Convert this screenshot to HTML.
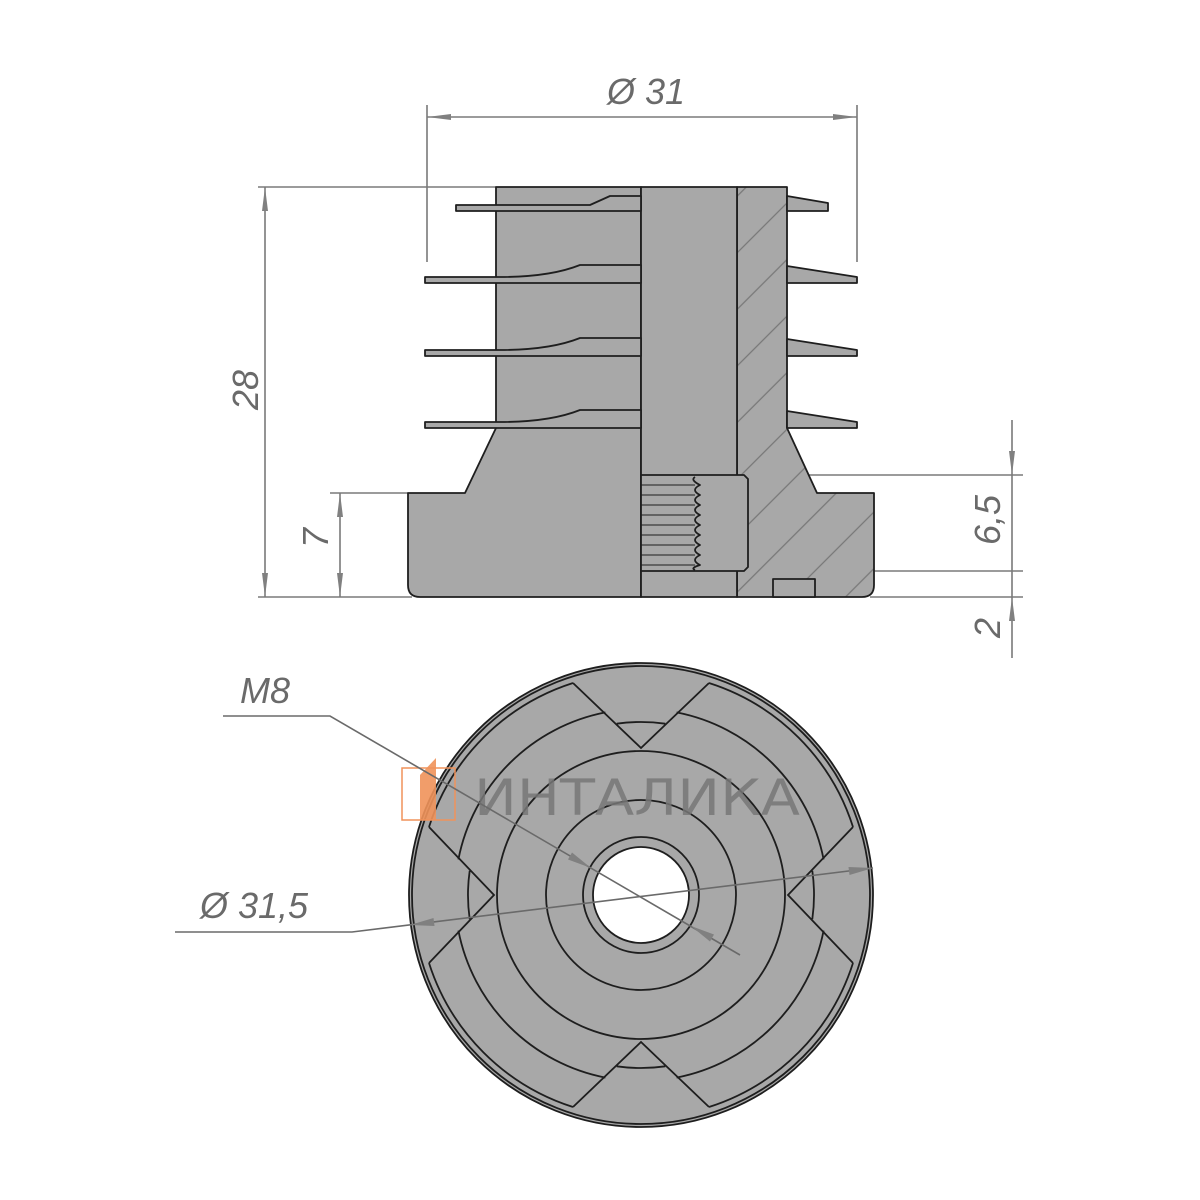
<!DOCTYPE html>
<html><head><meta charset="utf-8"><style>body{margin:0;background:#fff}svg{display:block}</style></head><body>
<svg width="1200" height="1200" viewBox="0 0 1200 1200" xmlns="http://www.w3.org/2000/svg">
<defs>
<pattern id="h" patternUnits="userSpaceOnUse" width="40" height="40" patternTransform="rotate(-45)"><rect width="40" height="40" fill="#a8a8a8"/><line x1="0" y1="20" x2="40" y2="20" stroke="#777" stroke-width="1.3"/></pattern>
<marker id="a" markerWidth="24" markerHeight="10" refX="24" refY="5" orient="auto" markerUnits="userSpaceOnUse"><path d="M0,2 L24,5 L0,8 Z" fill="#808080"/></marker>
</defs>
<g font-family="Liberation Sans, sans-serif" font-style="italic" fill="#6a6a6a" font-size="36">
<text x="607" y="104">Ø 31</text>
<text transform="translate(258,390) rotate(-90)" text-anchor="middle">28</text>
<text transform="translate(328,538) rotate(-90)" text-anchor="middle">7</text>
<text transform="translate(1000,520) rotate(-90)" text-anchor="middle">6,5</text>
<text transform="translate(1000,628) rotate(-90)" text-anchor="middle">2</text>
<text x="240" y="703">M8</text>
<text x="200" y="918">Ø 31,5</text>
</g>
<g stroke="#7a7a7a" stroke-width="1.6" fill="none">
<line x1="427" y1="105" x2="427" y2="262"/><line x1="857" y1="105" x2="857" y2="262"/>
<line x1="600" y1="117" x2="427" y2="117" marker-end="url(#a)"/><line x1="600" y1="117" x2="857" y2="117" marker-end="url(#a)"/>
<line x1="258" y1="187" x2="496" y2="187"/><line x1="258" y1="597" x2="412" y2="597"/>
<line x1="265" y1="390" x2="265" y2="187" marker-end="url(#a)"/><line x1="265" y1="390" x2="265" y2="597" marker-end="url(#a)"/>
<line x1="330" y1="493" x2="408" y2="493"/>
<line x1="340" y1="545" x2="340" y2="493" marker-end="url(#a)"/><line x1="340" y1="545" x2="340" y2="597" marker-end="url(#a)"/>
<line x1="748" y1="475" x2="1023" y2="475"/><line x1="870" y1="571" x2="1023" y2="571"/><line x1="870" y1="597" x2="1023" y2="597"/>
<line x1="1012" y1="420" x2="1012" y2="475" marker-end="url(#a)"/><line x1="1012" y1="475" x2="1012" y2="571"/>
<line x1="1012" y1="658" x2="1012" y2="597" marker-end="url(#a)"/><line x1="1012" y1="571" x2="1012" y2="597"/>
</g>
<!-- side view -->
<g stroke="#1e1e1e" stroke-width="1.8" stroke-linejoin="round">
<path d="M496,187 L641,187 L641,597 L420,597 Q408,597 408,585 L408,493 L465,493 L496,428 Z" fill="#a8a8a8"/>
<path d="M737,187 L787,187 L787,428 L817,493 L874,493 L874,585 Q874,597 862,597 L737,597 Z" fill="url(#h)"/>
<rect x="641" y="187" width="96" height="410" fill="#a8a8a8"/>
<g fill="#a8a8a8">
<path d="M456,211 L641,211 L641,196 L610,196 L590,205 L456,205 Z"/>
<path d="M425,283 L641,283 L641,265 L580,265 Q550,277 500,277 L425,277 Z"/>
<path d="M425,356 L641,356 L641,338 L580,338 Q550,350 500,350 L425,350 Z"/>
<path d="M425,428 L641,428 L641,410 L580,410 Q550,422 500,422 L425,422 Z"/>
<path d="M787,196 L828,203 L828,211 L787,211 Z"/>
<path d="M787,266 L857,277 L857,283 L787,283 Z"/>
<path d="M787,339 L857,350 L857,356 L787,356 Z"/>
<path d="M787,411 L857,422 L857,428 L787,428 Z"/>
</g>
<path d="M641,475 L744,475 L748,479 L748,567 L744,571 L641,571 Z" fill="#a8a8a8"/>
<path d="M695,477 Q690,480 700,485 Q690,490 700,495 Q690,500 700,505 Q690,510 700,515 Q690,520 700,525 Q690,530 700,535 Q690,540 700,545 Q690,550 700,555 Q690,560 700,565 Q690,568 695,570" fill="none"/>
<g stroke-width="1" fill="none"><line x1="641" y1="485" x2="695" y2="485"/><line x1="641" y1="495" x2="695" y2="495"/><line x1="641" y1="505" x2="695" y2="505"/><line x1="641" y1="515" x2="695" y2="515"/><line x1="641" y1="525" x2="695" y2="525"/><line x1="641" y1="535" x2="695" y2="535"/><line x1="641" y1="545" x2="695" y2="545"/><line x1="641" y1="555" x2="695" y2="555"/><line x1="641" y1="565" x2="695" y2="565"/></g>
<rect x="773" y="579" width="42" height="18" fill="#a8a8a8"/>
</g>
<!-- top view -->
<g stroke="#1e1e1e" stroke-width="1.8" fill="none">
<circle cx="641" cy="895" r="232" fill="#a8a8a8"/>
<circle cx="641" cy="895" r="229"/>
<circle cx="641" cy="895" r="144"/>
<circle cx="641" cy="895" r="95"/>
<circle cx="641" cy="895" r="58"/>
<circle cx="641" cy="895" r="48" fill="#fff"/>
<g id="q">
<path d="M573,683 L641,748 L709,683"/>
<path d="M616.7,723.7 A173,173 0 0 1 665.3,723.7"/>
<path d="M676.6,712.4 A186,186 0 0 1 823.6,859.4"/>
<path d="M709,683 A222,222 0 0 1 853,827"/>
</g>
<use href="#q" transform="rotate(90 641 895)"/>
<use href="#q" transform="rotate(180 641 895)"/>
<use href="#q" transform="rotate(270 641 895)"/>
</g>
<!-- logo -->
<rect x="402" y="768" width="53" height="52" fill="none" stroke="#f0925a" stroke-width="1.5"/>
<path d="M420,775 L436,758 L436,820 L420,820 Z" fill="#f0925a" opacity="0.9"/>
<text x="474" y="815" textLength="326" lengthAdjust="spacingAndGlyphs" font-family="DejaVu Sans, sans-serif" font-size="50" fill="#777" fill-opacity="0.85">ИНТАЛИКА</text>
<g stroke="#6a6a6a" stroke-width="1.6" fill="none">
<polyline points="223,716 330,716 740,955"/>
<polyline points="175,932 352,932 873,868"/>
</g>
<g fill="#808080">
<path d="M591,868 L572,852.5 L568,859.5 Z"/>
<path d="M691,926 L714,934.5 L710,941.5 Z"/>
<path d="M410,925 L434.5,926 L433.5,918 Z"/>
<path d="M873,868 L849.5,875 L848.5,867 Z"/>
</g>
</svg>
</body></html>
